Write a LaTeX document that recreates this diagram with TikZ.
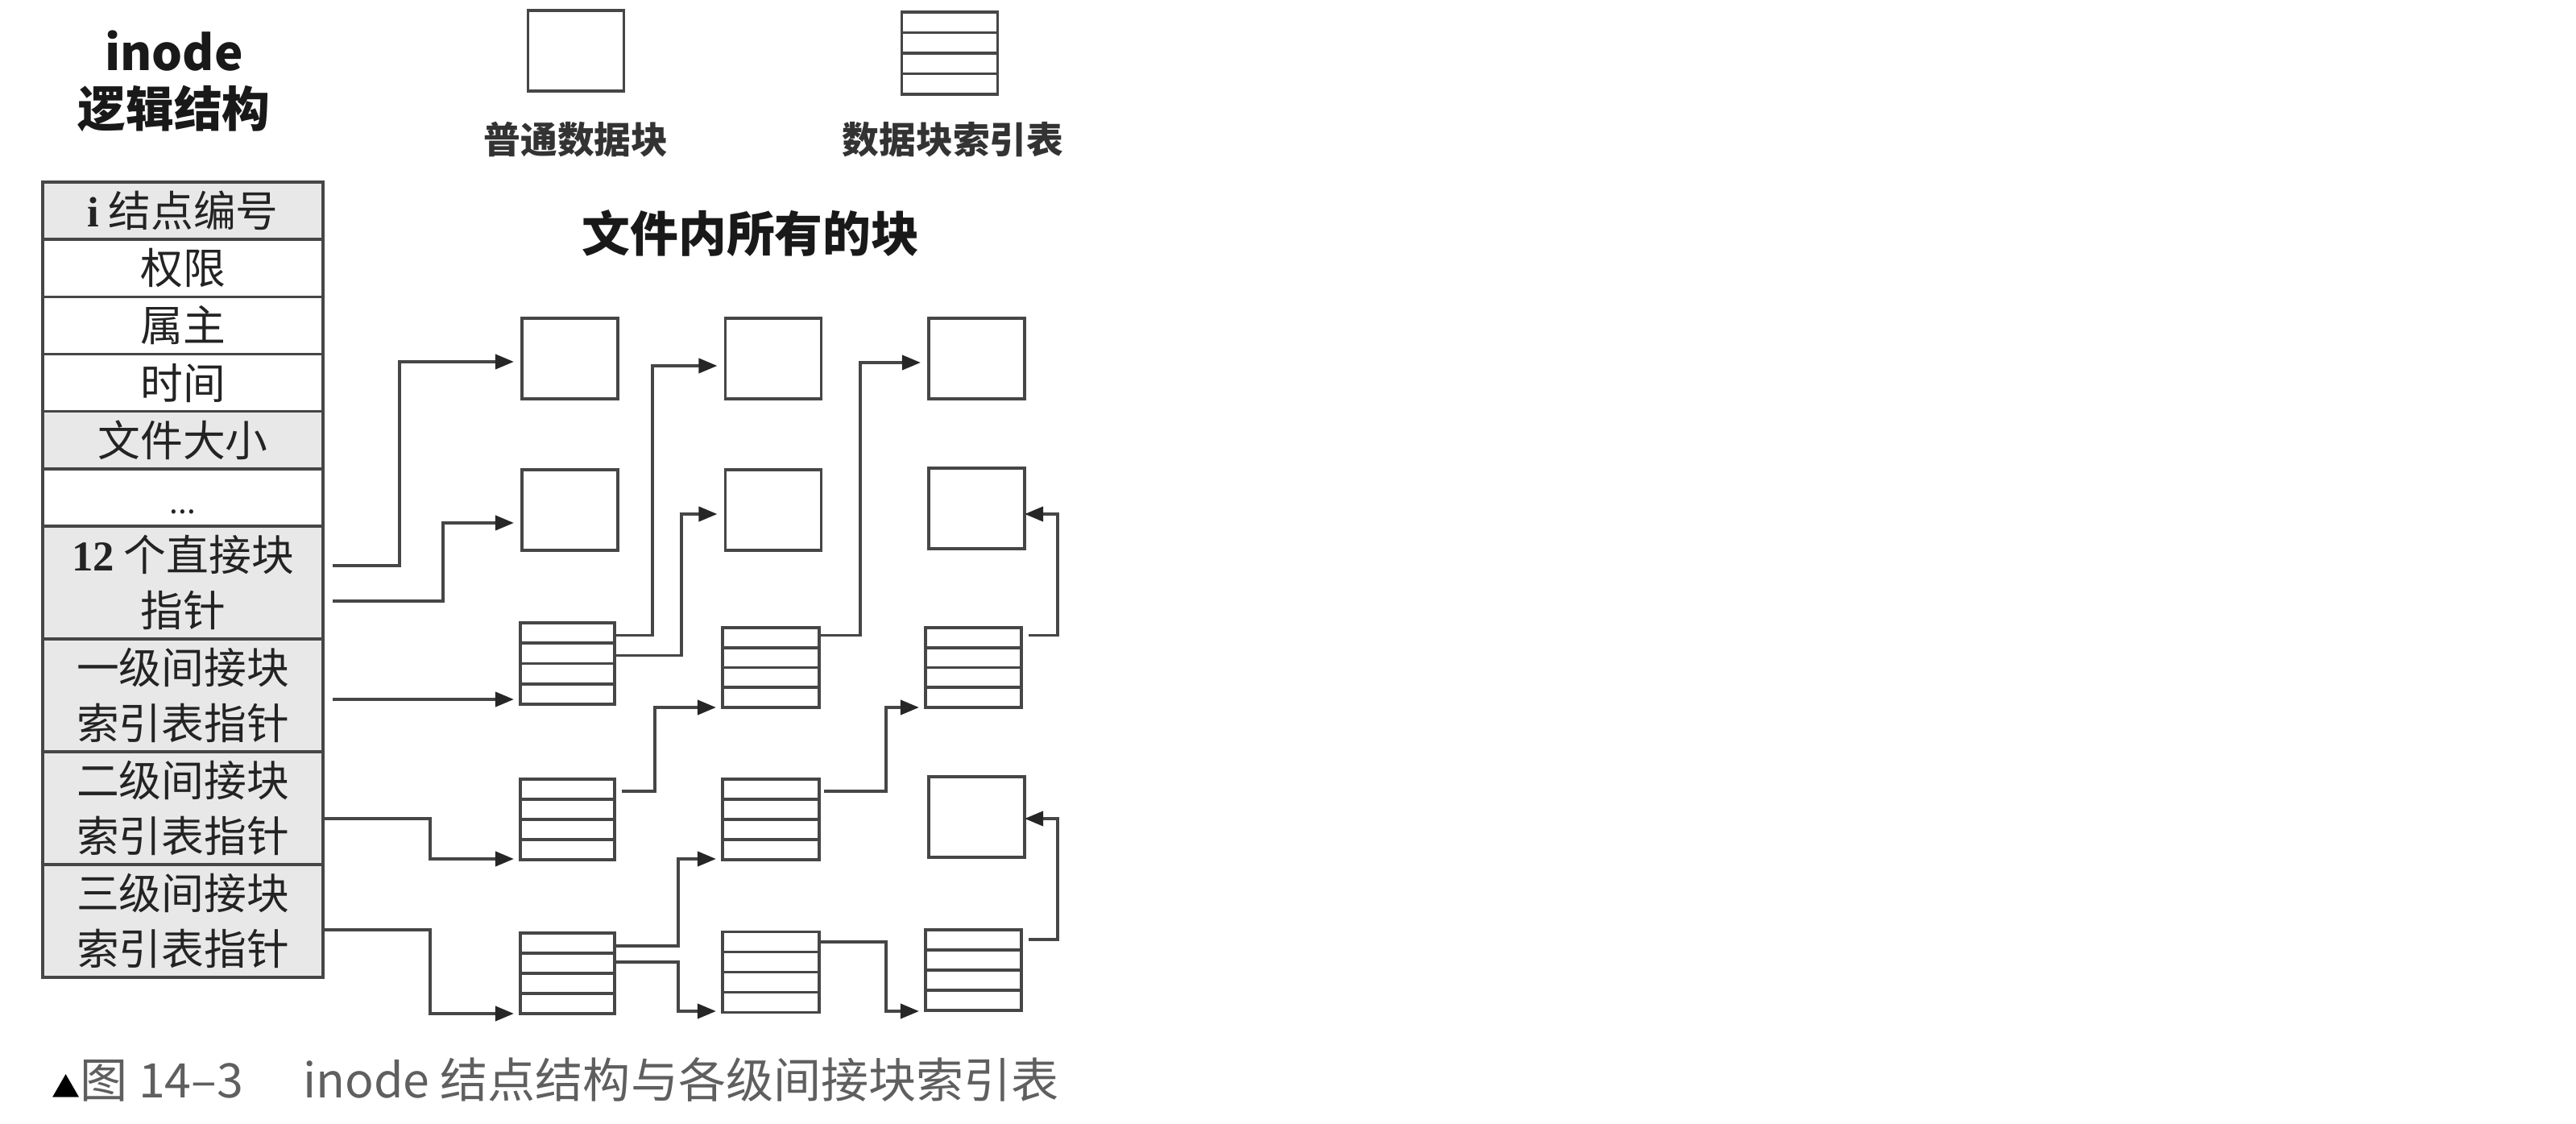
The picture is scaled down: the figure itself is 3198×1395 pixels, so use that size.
\documentclass[tikz,border=0pt]{standalone}
\usepackage{fontspec}
\setmainfont{Noto Sans CJK SC}
\newfontfamily\latserif{Liberation Serif}
\usetikzlibrary{arrows.meta,calc}
\definecolor{cellgray}{RGB}{232,232,232}
\definecolor{linec}{RGB}{70,70,70}
\definecolor{txtc}{RGB}{35,35,35}
\definecolor{capc}{RGB}{95,95,95}
\begin{document}
\begin{tikzpicture}[x=0.01cm,y=-0.01cm,
  cell/.style={draw=linec, line width=1pt, minimum width=3.48cm, inner sep=0pt, outer sep=0pt,
    text=txtc, font=\fontsize{15}{19.5}\selectfont, align=center},
  cellw/.style={cell, fill=white, minimum height=0.712cm},
  cellg/.style={cell, fill=cellgray, minimum height=0.712cm},
  cellgg/.style={cell, fill=cellgray, minimum height=1.4cm},
  blk/.style={draw=linec, line width=1.1pt, minimum width=1.19cm, minimum height=1.0cm,
    inner sep=0pt, outer sep=0pt, fill=white},
  idx/.style={blk, path picture={
    \foreach \f in {0.25,0.5,0.75}{
      \draw[linec, line width=1.1pt]
        ($(path picture bounding box.north west)!\f!(path picture bounding box.south west)$) --
        ($(path picture bounding box.north east)!\f!(path picture bounding box.south east)$);}}},
  arr/.style={draw=linec, line width=1.1pt, line join=miter,
    -{Triangle[length=0.23cm,width=0.18cm,color=black!85]}},
  ttl/.style={inner sep=0pt, font=\fontsize{17}{20}\selectfont\bfseries, text=black!90},
  lbl/.style={inner sep=0pt, font=\fontsize{13}{15}\selectfont\bfseries, text=black!80},
]
\fill[white] (0,0) rectangle (3198,1395);
\useasboundingbox (0,0) rectangle (3198,1395);

% titles
\node[ttl, anchor=base] (tinode) at (216,88) {inode};
\node[ttl, anchor=base] (tlogic) at (216,158) {逻辑结构};
\node[ttl] (tall) at (932,290) {文件内所有的块};

% legend
\node[blk] (legplain) at (715,63) {};
\node[idx, minimum height=1.02cm] (legidx) at (1179,66) {};
\node[lbl] (lplain) at (715,173) {普通数据块};
\node[lbl] (lidx) at (1183,173) {数据块索引表};

% inode table
\node[cellg] (r1) at (227,261.6) {{\latserif\bfseries i} 结点编号};
\node[cellw] (r2) at (227,332.8) {权限};
\node[cellw] (r3) at (227,403.9) {属主};
\node[cellw] (r4) at (227,475.1) {时间};
\node[cellg] (r5) at (227,546.3) {文件大小};
\node[cellw] (r6) at (227,617.4) {\vphantom{权}{\fontsize{11}{11}\selectfont ...}};
\node[cellgg] (r7) at (227,723) {{\latserif\bfseries 12} 个直接块\\指针};
\node[cellgg] (r8) at (227,863) {一级间接块\\索引表指针};
\node[cellgg] (r9) at (227,1003) {二级间接块\\索引表指针};
\node[cellgg] (r10) at (227,1143) {三级间接块\\索引表指针};

% blocks grid
\node[blk] (b11) at (707.5,445) {};
\node[blk] (b12) at (960,445) {};
\node[blk] (b13) at (1212.5,445) {};
\node[blk] (b21) at (707.5,633) {};
\node[blk] (b22) at (960,633) {};
\node[blk] (b23) at (1212.5,631) {};
\node[idx, minimum width=1.17cm, minimum height=1.01cm] (b31) at (704.5,823.5) {};
\node[idx, minimum width=1.2cm, minimum height=0.99cm] (b32) at (957,828.5) {};
\node[idx, minimum width=1.19cm, minimum height=0.99cm] (b33) at (1208.5,828.5) {};
\node[idx, minimum width=1.17cm] (b41) at (704.5,1017) {};
\node[idx, minimum width=1.2cm] (b42) at (957,1017) {};
\node[blk] (b43) at (1212.5,1014) {};
\node[idx, minimum width=1.17cm] (b51) at (704.5,1208) {};
\node[idx, minimum width=1.2cm] (b52) at (957,1206.5) {};
\node[idx, minimum width=1.19cm] (b53) at (1208.5,1204) {};

% connectors from inode table
\draw[arr] ([shift={(12,-21)}]r7.east) -- ++(83,0) |- ([shift={(-10,4)}]b11.west);
\draw[arr] ([shift={(12,23)}]r7.east) -- ++(137,0) |- ([shift={(-10,16)}]b21.west);
\draw[arr] ([shift={(12,5)}]r8.east) -- ([shift={(-8,44.5)}]b31.west);
\draw[arr] ([shift={(0,13)}]r9.east) -- ++(133,0) |- ([shift={(-8,49)}]b41.west);
\draw[arr] ([shift={(0,11)}]r10.east) -- ++(133,0) |- ([shift={(-8,50)}]b51.west);

% connectors between blocks
\draw[arr] ([shift={(0,-35)}]b31.east) -- ++(47,0) |- ([shift={(-10,9)}]b12.west);
\draw[arr] ([shift={(0,-10)}]b31.east) -- ++(83,0) |- ([shift={(-10,5)}]b22.west);
\draw[arr] ([shift={(0,-40)}]b32.east) -- ++(51,0) |- ([shift={(-10,5)}]b13.west);
\draw[arr] ([shift={(9,-40)}]b33.east) -- ++(36,0) |- ([shift={(0,7)}]b23.east);
\draw[arr] ([shift={(9,-35)}]b41.east) -- ++(41,0) |- ([shift={(-8,49.5)}]b32.west);
\draw[arr] ([shift={(6,-35)}]b42.east) -- ++(77,0) |- ([shift={(-8,49.5)}]b33.west);
\draw[arr] ([shift={(0,-34)}]b51.east) -- ++(79,0) |- ([shift={(-8,49)}]b42.west);
\draw[arr] ([shift={(0,-14)}]b51.east) -- ++(79,0) |- ([shift={(-8,48.5)}]b52.west);
\draw[arr] ([shift={(0,-37.5)}]b52.east) -- ++(83,0) |- ([shift={(-8,51)}]b53.west);
\draw[arr] ([shift={(9,-38)}]b53.east) -- ++(36,0) |- ([shift={(0,2)}]b43.east);

% caption
\node[anchor=west, inner sep=0pt, text=capc, font=\fontsize{16.8}{18}\selectfont] (cap) at (64,1340)
  {{\color{black}\fontsize{10}{10}\selectfont ▲}图 14–3\hspace{1.25em}inode 结点结构与各级间接块索引表};
\end{tikzpicture}
\end{document}
